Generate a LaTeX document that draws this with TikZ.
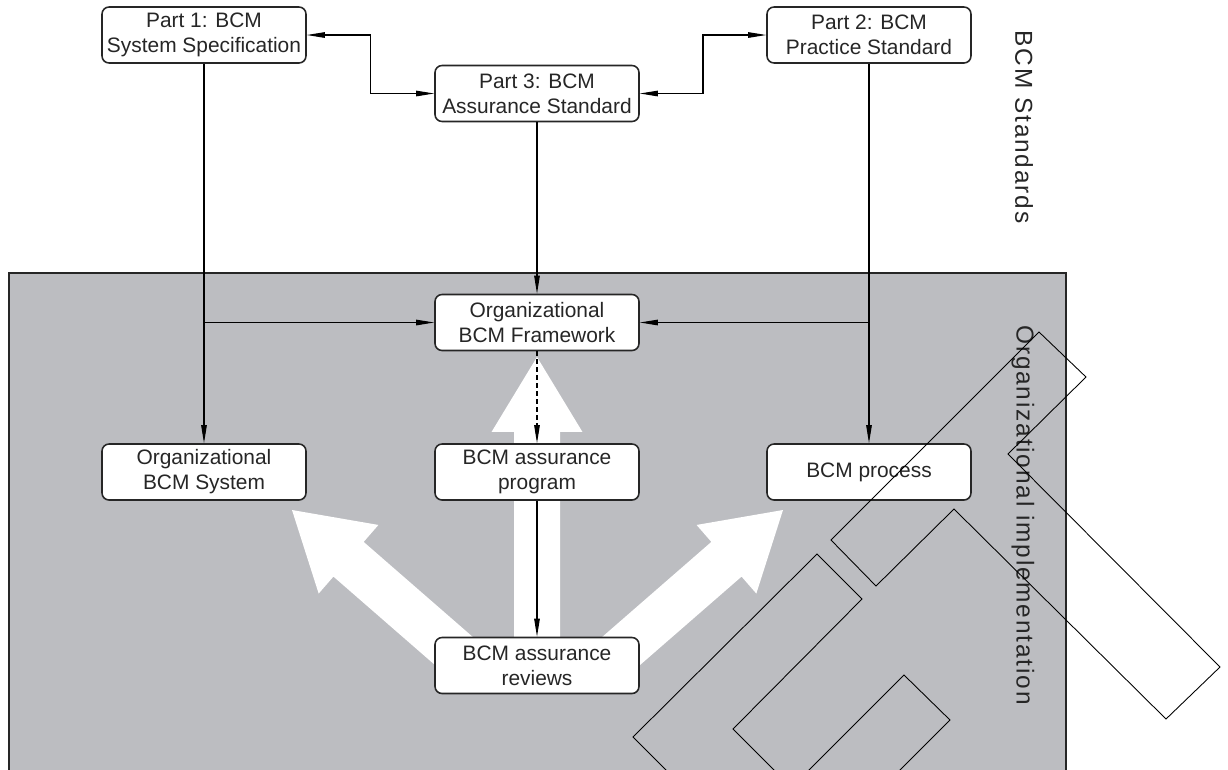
\documentclass[tikz,border=0pt]{standalone}
\usepackage{fontspec}
\setmainfont{Liberation Sans}
\newfontfamily\sidefont[LetterSpace=7.5]{Liberation Sans}
\usepackage{tikz}
\usetikzlibrary{positioning,calc,arrows.meta}

\definecolor{panelgray}{RGB}{188,189,193}
\definecolor{inkgray}{RGB}{38,38,38}

\tikzset{
    boxnode/.style={draw=inkgray, line width=0.9pt, fill=white, rounded corners=4pt,
        minimum width=4.08cm, minimum height=1.12cm, inner sep=0pt, align=center,
        text=inkgray, font=\fontsize{11.9pt}{14.2pt}\selectfont},
    link/.style={line width=0.6pt, draw=black, >={Triangle[length=0.36cm,width=0.11cm]}},
    sidelabel/.style={rotate=-90, text=inkgray, font=\sidefont\fontsize{13.9pt}{16pt}\selectfont},
    scrap/.style={line width=0.5pt, draw=black}
}

% white block arrow: tail, tip
\newcommand{\bigarrow}[2]{%
    \path ($(#2)!1.5cm!(#1)$) coordinate (ab);
    \fill[white] ($(#1)!0.46cm!90:(#2)$) -- ($(ab)!0.46cm!90:(#2)$) -- ($(ab)!0.91cm!90:(#2)$)
        -- (#2) -- ($(ab)!0.91cm!-90:(#2)$) -- ($(ab)!0.46cm!-90:(#2)$) -- ($(#1)!0.46cm!-90:(#2)$) -- cycle;}

\begin{document}
\begin{tikzpicture}[x=0.02cm, y=-0.02cm]
    \useasboundingbox (0,0) rectangle (1228,769);
    \clip (0,0) rectangle (1228,769);

    % implementation panel
    \draw[draw=inkgray, line width=0.9pt, fill=panelgray] (9,273) rectangle (1066,800);

    % big white arrows
    \bigarrow{537,650}{537,357}
    \bigarrow{470,665}{292,510}
    \bigarrow{605,665}{783,510}

    % standards
    \node[boxnode] (part1) at (204,35) {Part 1: BCM\\System Specification};
    \node[boxnode] (part3) at (537,93.5) {Part 3: BCM\\Assurance Standard};
    \node[boxnode] (part2) at (869,35) {Part 2: BCM\\Practice Standard};

    % implementation
    \node[boxnode] (frame) at (537,322.5) {Organizational\\BCM Framework};
    \node[boxnode] (orgsys) at (204,472) {Organizational\\BCM System};
    \node[boxnode] (program) at (537,472) {BCM assurance\\program};
    \node[boxnode] (process) at (869,472) {BCM process};
    \node[boxnode] (reviews) at (537,665.5) {BCM assurance\\reviews};

    \draw[link,<->] (part1.east) -| ($(part1.east)!0.5!(part3.west)$) |- (part3.west);
    \draw[link,<->] (part3.east) -| ($(part3.east)!0.5!(part2.west)$) |- (part2.west);

    \draw[link,->] (part1.south) -- (orgsys.north);
    \draw[link,->] (part1.south |- frame.west) -- (frame.west);
    \draw[link,->] (part3.south) -- (frame.north);
    \draw[link,->] (part2.south) -- (process.north);
    \draw[link,->] (part2.south |- frame.east) -- (frame.east);
    \draw[link,->,dash pattern=on 0.1cm off 0.06cm] (frame.south) -- (program.north);
    \draw[link,->] (program.south) -- (reviews.north);

    \node[sidelabel] (stdlabel) at (1024,127) {BCM Standards};
    \node[sidelabel] (implabel) at (1023,515) {Organizational implementation};

    % stray outlines
    \draw[scrap] (1039,332) -- (1086,377) -- (1008,454) -- (1220,667) -- (1166,719)
        -- (954,509) -- (876,586) -- (831,540) -- cycle;
    \draw[scrap] (633,737) -- (817,554) -- (862,599) -- (733,729) -- (800,796) -- (692,796) -- cycle;
    \draw[scrap] (904,675) -- (950,720) -- (870,800) -- (780,799) -- cycle;
\end{tikzpicture}
\end{document}
